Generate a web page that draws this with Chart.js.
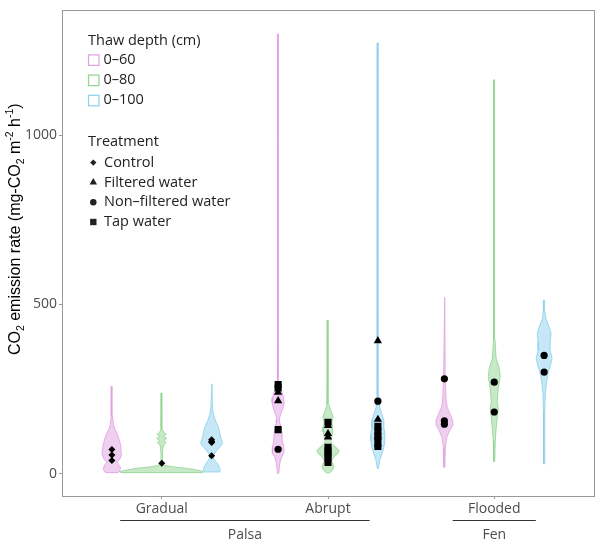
<!DOCTYPE html>
<html>
<head>
<meta charset="utf-8">
<title>CO2 emission rate by thaw depth</title>
<script src="https://cdn.jsdelivr.net/npm/chart.js@4.4.0/dist/chart.umd.min.js"></script>
<style>
  html, body { margin: 0; padding: 0; background: #fff; }
</style>
</head>
<body>
<canvas id="violins" width="600" height="544"></canvas>
<script>
// categories
var groups = ['Gradual', 'Abrupt', 'Flooded'];
var depths = ['0–60', '0–80', '0–100'];
var sites = ['Palsa', 'Fen'];
var siteGroups = [['Gradual', 'Abrupt'], ['Flooded']];
var treatments = ['Control', 'Filtered water', 'Non–filtered water', 'Tap water'];
var yTicks = [0, 500, 1000];

// violin outlines: levels (mg-CO2 m-2 h-1) and half widths (x units)
var gradual60Levels = [3, 8, 17, 26, 34, 42, 58, 78, 95, 107, 120, 132, 145, 170, 258];
var gradual60Widths = [0.038, 0.047, 0.052, 0.042, 0.03, 0.047, 0.06, 0.055, 0.047, 0.04, 0.03, 0.018, 0.01, 0.004, 0.002];
var gradual80Levels = [3, 5, 8, 12, 16, 20, 24, 30, 60, 80, 86, 92, 98, 104, 110, 116, 122, 130, 238];
var gradual80Widths = [0.24, 0.252, 0.24, 0.198, 0.144, 0.072, 0.018, 0.005, 0.004, 0.008, 0.012, 0.027, 0.013, 0.03, 0.012, 0.027, 0.013, 0.004, 0.002];
var gradual100Levels = [5, 15, 29, 40, 50, 56, 68, 80, 90, 107, 122, 136, 156, 176, 200, 265];
var gradual100Widths = [0.045, 0.05, 0.036, 0.018, 0.009, 0.014, 0.03, 0.053, 0.066, 0.055, 0.048, 0.042, 0.024, 0.01, 0.004, 0.002];
var abrupt60Levels = [1, 30, 49, 60, 70, 80, 95, 117, 136, 150, 161, 175, 190, 209, 225, 240, 255, 272, 320, 1298];
var abrupt60Widths = [0.004, 0.01, 0.021, 0.033, 0.036, 0.033, 0.027, 0.024, 0.018, 0.011, 0.008, 0.015, 0.027, 0.036, 0.033, 0.024, 0.014, 0.005, 0.003, 0.002];
var abrupt80Levels = [2, 10, 20, 28, 39, 50, 60, 68, 78, 88, 97, 112, 124, 138, 151, 165, 178, 190, 205, 453];
var abrupt80Widths = [0.008, 0.027, 0.036, 0.03, 0.021, 0.036, 0.06, 0.066, 0.048, 0.021, 0.018, 0.024, 0.03, 0.027, 0.024, 0.03, 0.024, 0.014, 0.005, 0.002];
var abrupt100Levels = [15, 39, 58, 78, 97, 117, 136, 156, 176, 195, 230, 320, 1272];
var abrupt100Widths = [0.003, 0.011, 0.024, 0.036, 0.042, 0.042, 0.036, 0.036, 0.024, 0.011, 0.005, 0.003, 0.002];
var flooded60Levels = [19, 78, 107, 126, 141, 156, 175, 195, 214, 280, 521];
var flooded60Widths = [0.003, 0.006, 0.015, 0.03, 0.048, 0.051, 0.036, 0.018, 0.011, 0.005, 0.002];
var flooded80Levels = [36, 97, 136, 165, 190, 214, 253, 287, 311, 341, 400, 1163];
var flooded80Widths = [0.003, 0.006, 0.012, 0.018, 0.024, 0.018, 0.024, 0.036, 0.03, 0.011, 0.004, 0.002];
var flooded100Levels = [29, 185, 234, 273, 297, 321, 341, 365, 389, 414, 433, 457, 480, 511];
var flooded100Widths = [0.003, 0.004, 0.007, 0.015, 0.024, 0.039, 0.048, 0.036, 0.036, 0.042, 0.03, 0.011, 0.004, 0.002];

// measured points: value and treatment (index into treatments)
var gradual60Values = [71, 55, 39];
var gradual60Trt = [0, 0, 0];
var gradual80Values = [31];
var gradual80Trt = [0];
var gradual100Values = [100, 95, 92, 53];
var gradual100Trt = [0, 0, 0, 0];
var abrupt60Values = [263, 253, 240, 215, 130, 72];
var abrupt60Trt = [3, 3, 1, 1, 3, 2];
var abrupt80Values = [152, 142, 118, 108, 78, 68, 58, 48, 33];
var abrupt80Trt = [3, 1, 1, 1, 3, 3, 3, 3, 3];
var abrupt100Values = [392, 214, 160, 140, 125, 110, 100, 88, 80];
var abrupt100Trt = [1, 2, 1, 3, 3, 3, 3, 1, 3];
var flooded60Values = [280, 156, 146];
var flooded60Trt = [2, 2, 2];
var flooded80Values = [270, 182];
var flooded80Trt = [2, 2];
var flooded100Values = [349, 300];
var flooded100Trt = [2, 2];

var violins = [
  { group: 0, depth: 0, levels: gradual60Levels, widths: gradual60Widths, values: gradual60Values, trt: gradual60Trt },
  { group: 0, depth: 1, levels: gradual80Levels, widths: gradual80Widths, values: gradual80Values, trt: gradual80Trt },
  { group: 0, depth: 2, levels: gradual100Levels, widths: gradual100Widths, values: gradual100Values, trt: gradual100Trt },
  { group: 1, depth: 0, levels: abrupt60Levels, widths: abrupt60Widths, values: abrupt60Values, trt: abrupt60Trt },
  { group: 1, depth: 1, levels: abrupt80Levels, widths: abrupt80Widths, values: abrupt80Values, trt: abrupt80Trt },
  { group: 1, depth: 2, levels: abrupt100Levels, widths: abrupt100Widths, values: abrupt100Values, trt: abrupt100Trt },
  { group: 2, depth: 0, levels: flooded60Levels, widths: flooded60Widths, values: flooded60Values, trt: flooded60Trt },
  { group: 2, depth: 1, levels: flooded80Levels, widths: flooded80Widths, values: flooded80Values, trt: flooded80Trt },
  { group: 2, depth: 2, levels: flooded100Levels, widths: flooded100Widths, values: flooded100Values, trt: flooded100Trt }
];

// styles
var depthColors = ['224,160,224', '144,212,144', '140,207,238'];
var trtShapes = ['rectRot', 'triangle', 'circle', 'rect'];
var trtSizes = [3.5, 4.8, 3.6, 5];
var dodge = 0.3;

var datasets = [];
violins.forEach(function (v) {
  var cx = v.group + 1 + (v.depth - 1) * dodge;
  var outline = [];
  for (var i = 0; i < v.levels.length; i++) outline.push({ x: cx + v.widths[i], y: v.levels[i] });
  for (var j = v.levels.length - 1; j >= 0; j--) outline.push({ x: cx - v.widths[j], y: v.levels[j] });
  outline.push(outline[0]);
  datasets.push({
    data: outline,
    showLine: true,
    fill: 'shape',
    borderColor: 'rgba(' + depthColors[v.depth] + ',0.9)',
    backgroundColor: 'rgba(' + depthColors[v.depth] + ',0.5)',
    borderWidth: 0.9,
    pointRadius: 0,
    tension: 0,
    order: 2
  });
  treatments.forEach(function (t, k) {
    var pts = [];
    v.values.forEach(function (val, n) {
      if (v.trt[n] === k) pts.push({ x: cx, y: val });
    });
    if (pts.length) {
      datasets.push({
        data: pts,
        showLine: false,
        pointStyle: trtShapes[k],
        pointRadius: trtSizes[k],
        pointBackgroundColor: '#000',
        pointBorderWidth: 0,
        order: 1
      });
    }
  });
});

var tickFont = { family: 'Open Sans', size: 14 };
var frameColor = '#999';

// panel border
var framePlugin = {
  id: 'frame',
  afterDraw: function (chart) {
    var a = chart.chartArea, ctx = chart.ctx;
    ctx.save();
    ctx.strokeStyle = frameColor;
    ctx.lineWidth = 1;
    ctx.strokeRect(Math.round(a.left) + 0.5, Math.round(a.top) + 0.5, Math.round(a.right - a.left), Math.round(a.bottom - a.top));
    ctx.restore();
  }
};

// y axis title with sub/superscripts
var yTitleParts = [
  ['CO', 0], ['2', -1], [' emission rate (mg-CO', 0], ['2', -1], [' m', 0], ['-2', 1], [' h', 0], ['-1', 1], [')', 0]
];
var yTitlePlugin = {
  id: 'yTitle',
  afterDraw: function (chart) {
    var ctx = chart.ctx, a = chart.chartArea;
    var big = '16px "Liberation Sans"', small = '10.5px "Liberation Sans"';
    ctx.save();
    var total = 0;
    yTitleParts.forEach(function (p) { ctx.font = p[1] ? small : big; total += ctx.measureText(p[0]).width; });
    ctx.translate(a.left - 42, (a.top + a.bottom) / 2 - 24);
    ctx.rotate(-Math.PI / 2);
    ctx.fillStyle = '#000';
    ctx.textBaseline = 'alphabetic';
    var x = -total / 2;
    yTitleParts.forEach(function (p) {
      ctx.font = p[1] ? small : big;
      ctx.fillText(p[0], x, p[1] < 0 ? 4 : (p[1] > 0 ? -7 : 0));
      x += ctx.measureText(p[0]).width;
    });
    ctx.restore();
  }
};

// Palsa / Fen brackets under the group labels
var sitePlugin = {
  id: 'sites',
  afterDraw: function (chart) {
    var xs = chart.scales.x, b = chart.chartArea.bottom, ctx = chart.ctx;
    ctx.save();
    ctx.strokeStyle = '#333';
    ctx.lineWidth = 1;
    ctx.fillStyle = '#4d4d4d';
    ctx.font = '14px "Open Sans"';
    ctx.textAlign = 'center';
    ctx.textBaseline = 'middle';
    sites.forEach(function (s, i) {
      var idx = siteGroups[i].map(function (g) { return groups.indexOf(g) + 1; });
      var lo = Math.min.apply(null, idx) - 0.25, hi = Math.max.apply(null, idx) + 0.25;
      var y = Math.round(b + 24) + 0.5;
      ctx.beginPath();
      ctx.moveTo(xs.getPixelForValue(lo), y);
      ctx.lineTo(xs.getPixelForValue(hi), y);
      ctx.stroke();
      ctx.fillText(s, xs.getPixelForValue((lo + hi) / 2), b + 39);
    });
    ctx.restore();
  }
};

// legend inside the panel
var legendPlugin = {
  id: 'insideLegend',
  afterDraw: function (chart) {
    var a = chart.chartArea, ctx = chart.ctx;
    var x0 = a.left + 26, y = a.top + 30;
    ctx.save();
    ctx.font = '14.5px "Open Sans"';
    ctx.fillStyle = '#222';
    ctx.textBaseline = 'middle';
    ctx.fillText('Thaw depth (cm)', x0, y);
    depths.forEach(function (d, i) {
      var yy = y + 19.5 + i * 20.2;
      ctx.fillStyle = '#fff';
      ctx.fillRect(x0 + 0.5, yy - 5, 10.5, 10.5);
      ctx.strokeStyle = 'rgb(' + depthColors[i] + ')';
      ctx.lineWidth = 1.2;
      ctx.strokeRect(x0 + 0.5, yy - 5, 10.5, 10.5);
      ctx.fillStyle = '#222';
      ctx.fillText(d, x0 + 15.5, yy);
    });
    var ty = a.top + 131.7;
    ctx.fillText('Treatment', x0, ty);
    treatments.forEach(function (t, k) {
      var yy = ty + 20.5 + k * 19.8;
      ctx.fillStyle = '#222';
      Chart.helpers.drawPoint(ctx, { pointStyle: trtShapes[k], radius: trtSizes[k] * 0.9, borderWidth: 0, rotation: 0 }, x0 + 5.3, yy);
      ctx.fillStyle = '#222';
      ctx.fillText(t, x0 + 16, yy);
    });
    ctx.restore();
  }
};

new Chart('violins', {
  type: 'line',
  data: { datasets: datasets },
  options: {
    responsive: false,
    animation: false,
    events: [],
    layout: { padding: { top: 5, right: 6, left: 0, bottom: 0 } },
    plugins: { legend: { display: false }, tooltip: { enabled: false } },
    scales: {
      x: {
        type: 'linear',
        min: 0.4,
        max: 3.6,
        afterBuildTicks: function (s) { s.ticks = groups.map(function (g, i) { return { value: i + 1 }; }); },
        afterFit: function (s) { s.height = 48; },
        grid: { drawOnChartArea: false, tickLength: 3, color: frameColor },
        border: { display: false },
        ticks: {
          callback: function (v) { return groups[v - 1]; },
          color: '#4d4d4d', font: tickFont, padding: 2, autoSkip: false, maxRotation: 0
        }
      },
      y: {
        type: 'linear',
        min: -66,
        max: 1368,
        afterBuildTicks: function (s) { s.ticks = yTicks.map(function (v) { return { value: v }; }); },
        afterFit: function (s) { s.width = 62; },
        grid: { drawOnChartArea: false, tickLength: 3, color: frameColor },
        border: { display: false },
        ticks: {
          callback: function (v) { return String(v); },
          color: '#4d4d4d', font: tickFont, padding: 2
        }
      }
    }
  },
  plugins: [framePlugin, yTitlePlugin, sitePlugin, legendPlugin]
});
</script>
</body>
</html>
